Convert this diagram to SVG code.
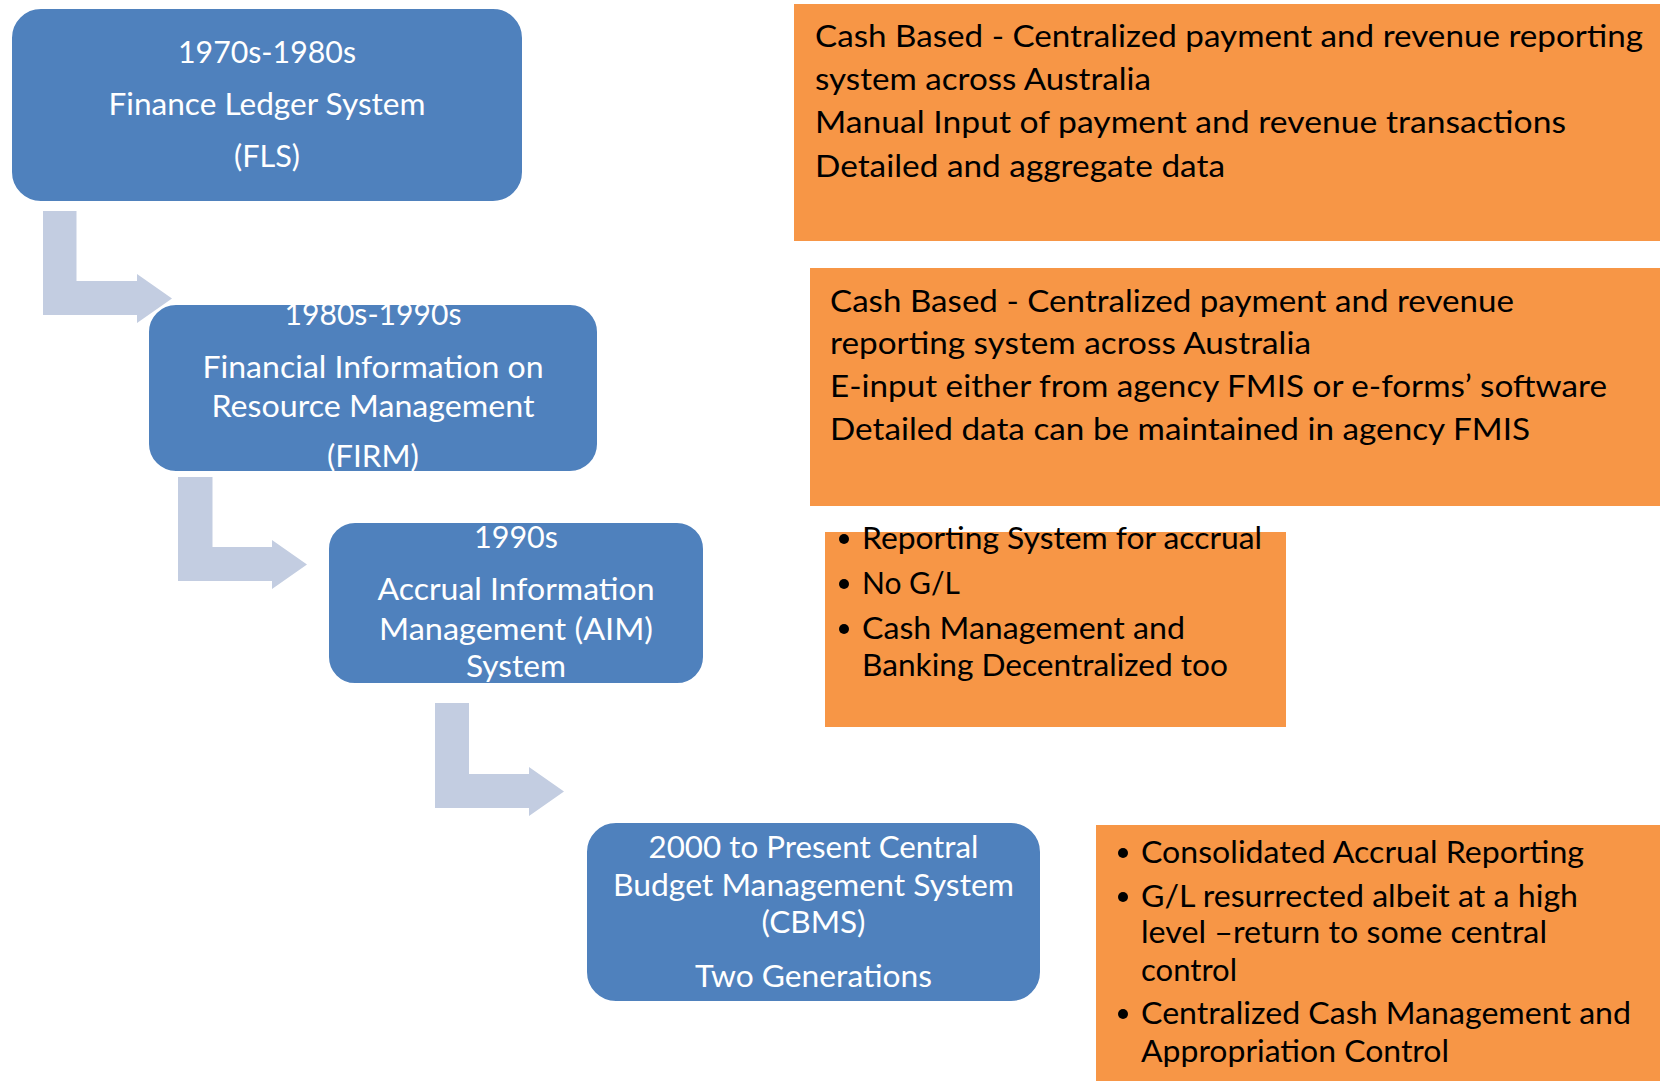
<svg xmlns="http://www.w3.org/2000/svg" width="1660" height="1081" viewBox="0 0 1660 1081">
  <style>
    .box { fill: #4F81BD; stroke: #FFFFFF; stroke-width: 2; }
    .note { fill: #F79646; }
    .arrow { fill: #C3CDE1; }
    .wt { font-family: Lato, "Open Sans", "Liberation Sans", sans-serif; font-size: 30.5px; fill: #FFFFFF; text-anchor: middle; }
    .bt { font-family: Lato, "Open Sans", "Liberation Sans", sans-serif; font-size: 30.5px; fill: #000000; }
    .dot { fill: #000000; }
  </style>
  <rect width="1660" height="1081" fill="#FFFFFF"/>

  <!-- bent arrows linking each period to the next -->
  <g id="connectors">
    <polygon class="arrow" points="43,211 76.5,211 76.5,281 137,281 137,274 172,298.5 137,323 137,315 43,315"/>
    <polygon class="arrow" points="178,477 212.5,477 212.5,547 272,547 272,540 307,564.5 272,589 272,581 178,581"/>
    <polygon class="arrow" points="435,703 469,703 469,774 529,774 529,767 564,791.5 529,816 529,808 435,808"/>
  </g>

  <!-- period boxes -->
  <g id="fls">
    <rect class="box" x="11" y="8" width="512" height="194" rx="30" ry="30"/>
    <text class="wt" x="267" y="63" textLength="178" lengthAdjust="spacingAndGlyphs">1970s-1980s</text>
    <text class="wt" x="267" y="115" textLength="317" lengthAdjust="spacingAndGlyphs">Finance Ledger System</text>
    <text class="wt" x="267" y="167" textLength="66" lengthAdjust="spacingAndGlyphs">(FLS)</text>
  </g>

  <g id="firm">
    <rect class="box" x="148" y="304" width="450" height="168" rx="28" ry="28"/>
    <text class="wt" x="373" y="325" textLength="177" lengthAdjust="spacingAndGlyphs">1980s-1990s</text>
    <text class="wt" x="373" y="378" textLength="341" lengthAdjust="spacingAndGlyphs">Financial Information on</text>
    <text class="wt" x="373" y="417" textLength="323" lengthAdjust="spacingAndGlyphs">Resource Management</text>
    <text class="wt" x="373" y="467" textLength="92" lengthAdjust="spacingAndGlyphs">(FIRM)</text>
  </g>

  <g id="aim">
    <rect class="box" x="328" y="522" width="376" height="162" rx="27" ry="27"/>
    <text class="wt" x="516" y="548" textLength="84" lengthAdjust="spacingAndGlyphs">1990s</text>
    <text class="wt" x="516" y="600" textLength="277" lengthAdjust="spacingAndGlyphs">Accrual Information</text>
    <text class="wt" x="516" y="640" textLength="274" lengthAdjust="spacingAndGlyphs">Management (AIM)</text>
    <text class="wt" x="516" y="677" textLength="100" lengthAdjust="spacingAndGlyphs">System</text>
  </g>

  <g id="cbms">
    <rect class="box" x="586" y="822" width="455" height="180" rx="30" ry="30"/>
    <text class="wt" x="813.5" y="858" textLength="330" lengthAdjust="spacingAndGlyphs">2000 to Present Central</text>
    <text class="wt" x="813.5" y="896" textLength="401" lengthAdjust="spacingAndGlyphs">Budget Management System</text>
    <text class="wt" x="813.5" y="933" textLength="104" lengthAdjust="spacingAndGlyphs">(CBMS)</text>
    <text class="wt" x="813.5" y="987" textLength="237" lengthAdjust="spacingAndGlyphs">Two Generations</text>
  </g>

  <!-- description panels -->
  <g id="fls-notes">
    <rect class="note" x="794" y="4" width="866" height="237"/>
    <text class="bt" x="815" y="47" textLength="828" lengthAdjust="spacingAndGlyphs">Cash Based - Centralized payment and revenue reporting</text>
    <text class="bt" x="815" y="90" textLength="336" lengthAdjust="spacingAndGlyphs">system across Australia</text>
    <text class="bt" x="815" y="133" textLength="751" lengthAdjust="spacingAndGlyphs">Manual Input of payment and revenue transactions</text>
    <text class="bt" x="815" y="177" textLength="410" lengthAdjust="spacingAndGlyphs">Detailed and aggregate data</text>
  </g>

  <g id="firm-notes">
    <rect class="note" x="810" y="268" width="850" height="238"/>
    <text class="bt" x="830" y="312" textLength="684" lengthAdjust="spacingAndGlyphs">Cash Based - Centralized payment and revenue</text>
    <text class="bt" x="830" y="354" textLength="481" lengthAdjust="spacingAndGlyphs">reporting system across Australia</text>
    <text class="bt" x="830" y="397" textLength="777" lengthAdjust="spacingAndGlyphs">E-input either from agency FMIS or e-forms’ software</text>
    <text class="bt" x="830" y="440" textLength="700" lengthAdjust="spacingAndGlyphs">Detailed data can be maintained in agency FMIS</text>
  </g>

  <g id="aim-notes">
    <rect class="note" x="825" y="532" width="461" height="195"/>
    <circle class="dot" cx="844" cy="539" r="5"/>
    <text class="bt" x="862" y="549" textLength="400" lengthAdjust="spacingAndGlyphs">Reporting System for accrual</text>
    <circle class="dot" cx="844" cy="584" r="5"/>
    <text class="bt" x="862" y="594" textLength="98" lengthAdjust="spacingAndGlyphs">No G/L</text>
    <circle class="dot" cx="844" cy="629" r="5"/>
    <text class="bt" x="862" y="639" textLength="323" lengthAdjust="spacingAndGlyphs">Cash Management and</text>
    <text class="bt" x="862" y="676" textLength="366" lengthAdjust="spacingAndGlyphs">Banking Decentralized too</text>
  </g>

  <g id="cbms-notes">
    <rect class="note" x="1096" y="825" width="564" height="256"/>
    <circle class="dot" cx="1123" cy="853" r="5"/>
    <text class="bt" x="1141" y="863" textLength="443" lengthAdjust="spacingAndGlyphs">Consolidated Accrual Reporting</text>
    <circle class="dot" cx="1123" cy="897" r="5"/>
    <text class="bt" x="1141" y="907" textLength="437" lengthAdjust="spacingAndGlyphs">G/L resurrected albeit at a high</text>
    <text class="bt" x="1141" y="943" textLength="406" lengthAdjust="spacingAndGlyphs">level –return to some central</text>
    <text class="bt" x="1141" y="981" textLength="96" lengthAdjust="spacingAndGlyphs">control</text>
    <circle class="dot" cx="1123" cy="1014" r="5"/>
    <text class="bt" x="1141" y="1024" textLength="490" lengthAdjust="spacingAndGlyphs">Centralized Cash Management and</text>
    <text class="bt" x="1141" y="1062" textLength="308" lengthAdjust="spacingAndGlyphs">Appropriation Control</text>
  </g>
</svg>
